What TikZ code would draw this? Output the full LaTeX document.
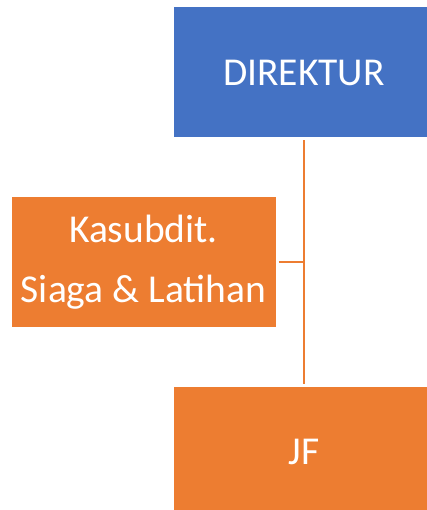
\documentclass[tikz,border=0pt]{standalone}
\usepackage{fontspec}
\setmainfont{Carlito}
\definecolor{boxblue}{HTML}{4472C4}
\definecolor{boxorange}{HTML}{ED7D31}
\begin{document}
\begin{tikzpicture}[x=1pt,y=1pt,
  orgbox/.style={draw=white,line width=1pt,minimum height=131pt,inner sep=0pt,text=white,
    font=\fontsize{39.5}{60}\selectfont,align=center},
  conn/.style={draw=boxorange,line width=2pt}]
\useasboundingbox (0,0) rectangle (427,-510);
\node[orgbox,fill=boxblue,minimum width=262pt] (dir) at (304,-72.5) {DIREKTUR};
\node[orgbox,fill=boxorange,minimum width=265pt] (kas) at (143.5,-262) {Kasubdit.\\Siaga \& Latihan};
\node[orgbox,fill=boxorange,minimum width=262pt] (jf) at (304,-451.5) {JF};
\draw[conn,shorten <=2pt,shorten >=2pt] (dir.south) -- (jf.north);
\draw[conn,shorten <=2pt] (kas.east) -- (kas.east -| dir.south);
\end{tikzpicture}
\end{document}
